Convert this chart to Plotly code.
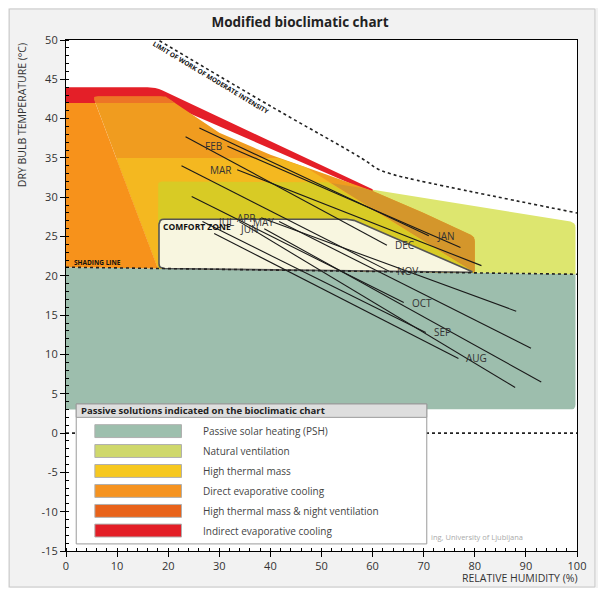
import numpy as np
import plotly.graph_objects as go

# ---------------- data ----------------
title_text = "Modified bioclimatic chart"
x_ticks = list(range(0, 101, 10))
y_ticks = list(range(-15, 51, 5))

months = ["JAN", "FEB", "MAR", "APR", "MAY", "JUN", "JUL", "AUG", "SEP", "OCT", "NOV", "DEC"]
rh_start = [26.1, 31.6, 33.5, 38.2, 41.7, 38.8, 33.9, 29.0, 26.7, 24.6, 22.6, 23.4]
t_start = [38.8, 36.5, 33.5, 27.4, 26.9, 26.0, 26.9, 25.4, 26.9, 30.1, 34.0, 37.7]
rh_end = [71.0, 77.2, 81.3, 88.1, 91.0, 93.0, 87.9, 76.8, 70.4, 66.1, 63.2, 62.8]
t_end = [25.1, 23.6, 21.3, 15.5, 10.8, 6.5, 5.8, 9.5, 12.8, 16.6, 20.6, 23.9]
label_at = ["end", "start", "start", "start", "start", "start", "start", "end", "end", "end", "end", "end"]

# zones (RH %, T degC)
psh_rh = [0, 99.7, 99.7, 0]
psh_t = [3, 3, 20.2, 21.1]
nv_rh = [18, 18, 50, 99.7, 99.7]
nv_t = [20.94, 32, 32, 26.8, 20.2]
iec_rh = [0, 0, 17.5, 60, 60, 19.5, 0]
iec_t = [42, 44, 44, 31, 30.5, 42, 42]
htmnv_rh = [5.3, 19.5, 30, 40, 50, 60, 70, 80, 80, 18]
htmnv_t = [42.8, 42.8, 38.2, 35.4, 33.1, 30.8, 28, 25, 20.38, 20.94]
strip_rh = [5.3, 19.5, 21.3, 5.76]
strip_t = [42.8, 42.8, 42.0, 42.0]
brown_rh = [18, 18, 50, 58.5, 60, 70, 80, 80]
brown_t = [20.94, 32, 32, 31.1, 30.8, 28, 25, 20.38]
htm_rh = [9.8, 41.4, 46.9, 80, 18]
htm_t = [35, 35, 33.8, 20.38, 20.94]
htmx_rh = [18, 18, 51.3, 80]
htmx_t = [20.94, 32, 31.9, 20.38]
dec_rh = [0, 0, 5.76, 18]
dec_t = [21.1, 42, 42, 20.94]
cz_rh = [18.2, 18.2, 55.9, 80]
cz_t = [20.94, 27.2, 27.2, 20.45]
shade_rh = [0, 100]
shade_t = [21.1, 20.2]
zero_rh = [0, 100]
zero_t = [0, 0]
limit_rh = [18.3, 40, 58, 61, 63.5, 67, 100]
limit_t = [49.9, 41.6, 34.9, 33.6, 33.0, 32.4, 28.0]

legend_names = ["Passive solar heating (PSH)", "Natural ventilation", "High thermal mass",
                "Direct evaporative cooling", "High thermal mass & night ventilation",
                "Indirect evaporative cooling"]
legend_colors = ["#9dbfad", "#cfd86b", "#f6c81f", "#f59320", "#e8621a", "#e31e26"]

# ---------------- layout constants ----------------
W, H = 590, 580
ML, MR, MT, MB = 58, 19, 32, 37
X0, X1, Y0, Y1 = 0, 100, -15, 50
PW, PH = W - ML - MR, H - MT - MB
sx = PW / (X1 - X0)
sy = PH / (Y1 - Y0)
FONT = "Open Sans"


def rounded(xs, ys, r=5, n=5, corners=None):
    P = [np.array([x * sx, y * sy]) for x, y in zip(xs, ys)]
    out = []
    N = len(P)
    for i in range(N):
        if corners is not None and i not in corners:
            out.append(P[i])
            continue
        p0, p1, p2 = P[i - 1], P[i], P[(i + 1) % N]
        v1, v2 = p0 - p1, p2 - p1
        l1, l2 = np.linalg.norm(v1), np.linalg.norm(v2)
        rr = min(r, l1 / 2, l2 / 2)
        a = p1 + v1 / l1 * rr
        b = p1 + v2 / l2 * rr
        for t in np.linspace(0, 1, n):
            out.append((1 - t) ** 2 * a + 2 * (1 - t) * t * p1 + t ** 2 * b)
    ox = [p[0] / sx for p in out]
    oy = [p[1] / sy for p in out]
    return ox + [ox[0]], oy + [oy[0]]


fig = go.Figure()


def zone(xs, ys, color, corners=None, r=5, line=None):
    if corners is not None:
        xs, ys = rounded(xs, ys, r=r, corners=corners)
    else:
        xs, ys = list(xs) + [xs[0]], list(ys) + [ys[0]]
    fig.add_trace(go.Scatter(x=xs, y=ys, mode="lines", fill="toself", fillcolor=color,
                             line=line or dict(width=0, color=color), hoverinfo="skip",
                             showlegend=False))


zone(psh_rh, psh_t, "#9dbead", corners=[1], r=5)
zone(nv_rh, nv_t, "#dde66f", corners=[1, 3], r=5)
zone(iec_rh, iec_t, "#e41f28", corners=[2], r=8)
zone(htmnv_rh, htmnv_t, "#f09c1f", corners=[0, 1, 7], r=5)
zone(strip_rh, strip_t, "#ed7526", corners=[0], r=3)
zone(brown_rh, brown_t, "#d4962b", corners=[6], r=5)
zone(htm_rh, htm_t, "#f4b820", corners=[0], r=3)
zone(htmx_rh, htmx_t, "#d8cb25", corners=[1], r=4)
zone(dec_rh, dec_t, "#f7921b")
zone(cz_rh, cz_t, "#f8f6e0", corners=[0, 1, 2, 3], r=5,
     line=dict(width=1.6, color="#555555"))

dot_line = dict(color="#222222", width=1.6, dash="dot")
fig.add_trace(go.Scatter(x=shade_rh, y=shade_t, mode="lines", line=dot_line,
                         hoverinfo="skip", showlegend=False))
fig.add_trace(go.Scatter(x=zero_rh, y=zero_t, mode="lines", line=dot_line,
                         hoverinfo="skip", showlegend=False))
fig.add_trace(go.Scatter(x=limit_rh, y=limit_t, mode="lines", line_shape="spline",
                         line=dot_line, hoverinfo="skip", showlegend=False))

annotations = []
for m, a, b, c, d, where in zip(months, rh_start, t_start, rh_end, t_end, label_at):
    fig.add_trace(go.Scatter(x=[a, c], y=[b, d], mode="lines",
                             line=dict(color="#1a1a1a", width=1.1), hoverinfo="skip",
                             showlegend=False))
    if where == "end":
        annotations.append(dict(x=c, y=d, text=m, showarrow=False, xanchor="left",
                                xshift=6, font=dict(size=10, color="#333333", family=FONT)))
    else:
        annotations.append(dict(x=a, y=b, text=m, showarrow=False, xanchor="right",
                                xshift=-3, font=dict(size=10, color="#333333", family=FONT)))

# zone texts
annotations += [
    dict(x=28.3, y=45.2, text="<b>LIMIT OF WORK OF MODERATE INTENSITY</b>", textangle=31,
         showarrow=False, font=dict(size=6.5, color="#111111", family=FONT)),
    dict(x=1.2, y=21.7, text="<b>SHADING LINE</b>", xanchor="left", showarrow=False,
         font=dict(size=6.5, color="#111111", family=FONT)),
    dict(x=18.6, y=26.3, text="<b>COMFORT ZONE</b>", xanchor="left", showarrow=False,
         font=dict(size=8.5, color="#111111", family=FONT)),
]

# legend box
shapes = []
lx0, lx1, ly0, ly1, lyh = 2.0, 70.6, -14.1, 3.7, 2.0
shapes.append(dict(type="rect", xref="x", yref="y", x0=lx0, x1=lx1, y0=ly0, y1=ly1,
                   fillcolor="white", line=dict(color="#9a9a9a", width=1), layer="above"))
shapes.append(dict(type="rect", xref="x", yref="y", x0=lx0, x1=lx1, y0=lyh, y1=ly1,
                   fillcolor="#dedede", line=dict(color="#9a9a9a", width=1), layer="above"))
annotations.append(dict(x=lx0 + 0.5, y=(lyh + ly1) / 2,
                        text="<b>Passive solutions indicated on the bioclimatic chart</b>",
                        xanchor="left", yanchor="middle", showarrow=False,
                        font=dict(size=9.5, color="#222222", family=FONT)))
sw_y = [0.25, -2.28, -4.82, -7.36, -9.9, -12.4]
for name, col, yy in zip(legend_names, legend_colors, sw_y):
    shapes.append(dict(type="rect", xref="x", yref="y", x0=5.65, x1=22.6, y0=yy - 0.82,
                       y1=yy + 0.82, fillcolor=col, line=dict(color="#b0b0b0", width=1),
                       layer="above"))
    annotations.append(dict(x=26.5, y=yy, text=name, xanchor="left", yanchor="middle",
                            showarrow=False,
                            font=dict(size=10, color="#444444", family=FONT)))

annotations.append(dict(x=71.0, y=-13.2, text="ing, University of Ljubljana", xanchor="left",
                        yanchor="middle", showarrow=False,
                        font=dict(size=7.5, color="#aaaaaa", family=FONT)))

# axis titles
annotations.append(dict(xref="paper", yref="paper", x=(14 - ML) / PW, y=(PH + MT - 107) / PH,
                        xanchor="center", yanchor="middle",
                        text="DRY BULB TEMPERATURE (°C)", textangle=-90, showarrow=False,
                        font=dict(size=10.5, color="#333333", family=FONT)))
annotations.append(dict(xref="paper", yref="paper", x=1.0, y=-27 / PH, xanchor="right",
                        xshift=3, yanchor="middle", text="RELATIVE HUMIDITY (%)",
                        showarrow=False, font=dict(size=10.5, color="#333333", family=FONT)))

# outer frame
shapes.append(dict(type="rect", xref="paper", yref="paper",
                   x0=(1 - ML) / PW, x1=(W - 1 - ML) / PW,
                   y0=-(MB - 1) / PH, y1=1 + (MT - 1) / PH,
                   line=dict(color="#c8c8c8", width=1), layer="below"))

fig.update_layout(
    width=W, height=H,
    margin=dict(l=ML, r=MR, t=MT, b=MB),
    paper_bgcolor="#f2f2f2", plot_bgcolor="white",
    title=dict(text="<b>" + title_text + "</b>", x=(300 - 8) / W, xanchor="center",
               y=1 - 14 / H, yanchor="middle",
               font=dict(size=13.5, color="#222222", family=FONT)),
    showlegend=False,
    annotations=annotations,
    shapes=shapes,
    xaxis=dict(range=[X0, X1], tickvals=x_ticks, ticktext=[str(v) for v in x_ticks],
               ticks="outside", ticklen=5,
               tickcolor="black", showline=True, linecolor="black", linewidth=1.2,
               mirror=True, showgrid=False, zeroline=False,
               tickfont=dict(size=11, color="#333333", family=FONT),
               minor=dict(dtick=2, ticks="inside", ticklen=3, tickcolor="black")),
    yaxis=dict(range=[Y0, Y1], tickvals=y_ticks, ticktext=[str(v) for v in y_ticks],
               ticks="outside", ticklen=5,
               tickcolor="black", showline=True, linecolor="black", linewidth=1.2,
               mirror=True, showgrid=False, zeroline=False,
               tickfont=dict(size=11, color="#333333", family=FONT),
               minor=dict(dtick=1, ticks="inside", ticklen=3, tickcolor="black")),
)

fig.write_html("out.html")
